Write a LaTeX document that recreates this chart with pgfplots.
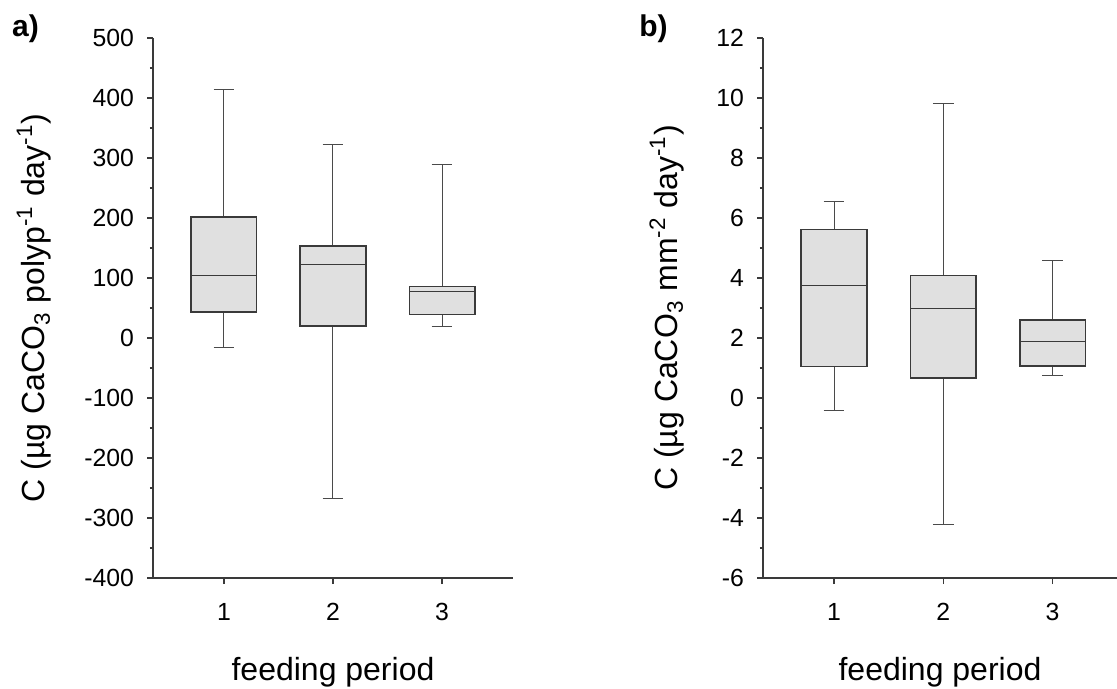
\documentclass[border=0pt]{standalone}
\usepackage{fontspec}
\setmainfont{Liberation Sans}
\usepackage{pgfplots}
\pgfplotsset{compat=1.18}
\usepgfplotslibrary{statistics}
\definecolor{boxfill}{HTML}{E0E0E0}
\definecolor{edge}{HTML}{3A3A3A}
\definecolor{wedge}{HTML}{4A4A4A}
\pgfplotsset{
  panel/.style={
    scale only axis,
    height=270pt,
    axis x line=bottom, axis y line=left,
    axis line style={-, draw=edge, line width=0.75pt},
    xmin=0.35,
    xtick={1,2,3},
    tick align=outside,
    major tick length=3pt, minor tick length=1.6pt,
    minor y tick num=1,
    every tick/.style={draw=edge, line width=0.6pt},
    tick label style={font=\fontsize{12.4}{14}\selectfont},
    yticklabel style={xshift=-3pt},
    xticklabel style={yshift=-6pt},
    /pgf/number format/assume math mode=true,
    label style={font=\fontsize{16}{19}\selectfont},
    xlabel={feeding period},
    xlabel style={at={(axis description cs:0.5,-0.189)}, anchor=base},
    boxplot/draw direction=y,
    boxplot/box extend=0.6,
    boxplot/whisker extend=0.19,
    boxplot/every box/.style={draw=edge, fill=boxfill, line width=0.8pt},
    boxplot/every whisker/.style={draw=wedge, line width=0.5pt},
    boxplot/every median/.style={draw=edge, line width=0.5pt},
  }
}
\begin{document}
\begin{tikzpicture}
\useasboundingbox (0pt,0pt) rectangle (558.5pt,-344.5pt);
\begin{axis}[panel,
  at={(76.5pt,-289pt)}, anchor=south west,
  width=180pt, xmax=3.65,
  ymin=-400, ymax=500, ytick={-400,-300,...,500},
  ylabel={C (µg CaCO\textsubscript{3} polyp\textsuperscript{-1} day\textsuperscript{-1})},
  ylabel style={at={(axis description cs:-0.3306,0.5)}, anchor=center},
]
\addplot[boxplot prepared={draw position=1, lower whisker=-16, lower quartile=43, median=104, upper quartile=202, upper whisker=414}] coordinates {};
\addplot[boxplot prepared={draw position=2, lower whisker=-268, lower quartile=20, median=123, upper quartile=153, upper whisker=322}] coordinates {};
\addplot[boxplot prepared={draw position=3, lower whisker=20, lower quartile=39, median=78, upper quartile=86, upper whisker=290}] coordinates {};
\end{axis}
\begin{axis}[panel,
  at={(381.5pt,-289pt)}, anchor=south west,
  width=177pt, xmax=3.589,
  ymin=-6, ymax=12, ytick={-6,-4,...,12},
  ylabel={C (µg CaCO\textsubscript{3} mm\textsuperscript{-2} day\textsuperscript{-1})},
  ylabel style={at={(axis description cs:-0.2712,0.5)}, anchor=center},
]
\addplot[boxplot prepared={draw position=1, lower whisker=-0.40, lower quartile=1.05, median=3.74, upper quartile=5.61, upper whisker=6.56}] coordinates {};
\addplot[boxplot prepared={draw position=2, lower whisker=-4.22, lower quartile=0.67, median=2.97, upper quartile=4.08, upper whisker=9.80}] coordinates {};
\addplot[boxplot prepared={draw position=3, lower whisker=0.74, lower quartile=1.06, median=1.89, upper quartile=2.60, upper whisker=4.57}] coordinates {};
\end{axis}
\node[font=\bfseries\fontsize{15}{18}\selectfont] at (12.75pt,-14.5pt) {a)};
\node[font=\bfseries\fontsize{15}{18}\selectfont] at (326.75pt,-14.5pt) {b)};
\end{tikzpicture}
\end{document}
